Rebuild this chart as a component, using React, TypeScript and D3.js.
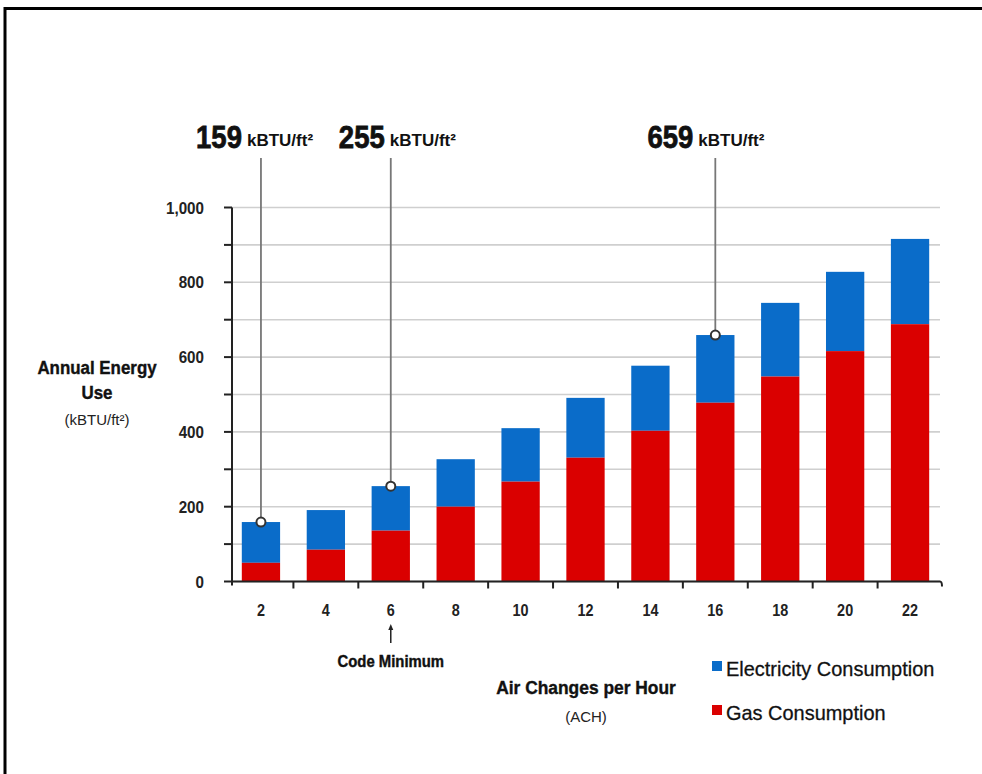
import React from "react";
import * as d3 from "d3";

const categories = ["2", "4", "6", "8", "10", "12", "14", "16", "18", "20", "22"];
const gasValues = [50, 85, 136, 200, 267, 331, 403, 478, 548, 616, 688];
const totalValues = [159, 191, 255, 327, 410, 491, 577, 659, 745, 828, 916];
const yTicks = [0, 200, 400, 600, 800, 1000];
const yMinorTicks = [0, 100, 200, 300, 400, 500, 600, 700, 800, 900, 1000];
const annotationCats = ["2", "6", "16"];
const annotationValues = [159, 255, 659];
const seriesNames = ["Electricity Consumption", "Gas Consumption"];
const seriesColors = ["#0a6cc9", "#da0000"];

// layout only: horizontal offset of each annotation number's right edge from its leader line
const annotationDx = [-19, -6, -22];

const W = 982;
const H = 774;
const FONT = "'Liberation Sans', Arial, Helvetica, sans-serif";

type TProps = {
  x: number;
  y: number;
  sx?: number;
  size: number;
  bold?: boolean;
  heavy?: number;
  anchor?: "start" | "middle" | "end";
  fill?: string;
  children: React.ReactNode;
};

function T({ x, y, sx = 1, size, bold = true, heavy = 0, anchor = "start", fill = "#111", children }: TProps) {
  return (
    <text
      transform={`translate(${x},${y}) scale(${sx},1)`}
      textAnchor={anchor}
      fontFamily={FONT}
      fontWeight={bold ? "bold" : "normal"}
      fontSize={size}
      fill={fill}
      stroke={heavy > 0 ? fill : "none"}
      strokeWidth={heavy}
    >
      {children}
    </text>
  );
}

export default function App() {
  const x = d3.scaleBand<string>().domain(categories).range([228.5, 942.5]).padding(0);
  const y = d3.scaleLinear().domain([0, 1000]).range([581.5, 207.5]);
  const bw = x.bandwidth() * 0.59;
  const cx = (c: string) => (x(c) as number) + x.bandwidth() / 2;
  const axisLeft = 232;
  const axisRight = 940;
  const fmt = d3.format(",");

  return (
    <svg width={W} height={H} style={{ position: "absolute", left: 0, top: 0, display: "block", background: "#fff" }}>
      <rect x={0} y={0} width={W} height={H} fill="#fff" />
      {/* frame */}
      <path d={`M5,${H} V8.5 H${W}`} fill="none" stroke="#000" strokeWidth={3} />

      {/* gridlines */}
      {yMinorTicks.map((t) => (
        <line key={"g" + t} x1={axisLeft} x2={axisRight} y1={y(t)} y2={y(t)} stroke="#cfcfcf" strokeWidth={1.6} />
      ))}

      {/* bars */}
      {categories.map((c, i) => {
        const x0 = cx(c) - bw / 2;
        return (
          <g key={"b" + c}>
            <rect x={x0} y={y(totalValues[i])} width={bw} height={y(gasValues[i]) - y(totalValues[i])} fill={seriesColors[0]} />
            <rect x={x0} y={y(gasValues[i])} width={bw} height={y(0) - y(gasValues[i])} fill={seriesColors[1]} />
          </g>
        );
      })}

      {/* y axis */}
      <line x1={axisLeft} x2={axisLeft} y1={y(1000)} y2={y(0) + 4} stroke="#222" strokeWidth={2} />
      {yMinorTicks.map((t) => (
        <line key={"yt" + t} x1={axisLeft - 8} x2={axisLeft} y1={y(t)} y2={y(t)} stroke="#222" strokeWidth={2} />
      ))}
      {yTicks.map((t) => (
        <T key={"yl" + t} x={204} y={y(t) + 6} size={16} sx={0.95} anchor="end" fill="#222">
          {fmt(t)}
        </T>
      ))}

      {/* x axis */}
      <path d={`M${axisLeft},${y(0)} H${axisRight} q2,0 2,5`} fill="none" stroke="#222" strokeWidth={2} />
      {categories.slice(1).map((c) => (
        <line key={"xt" + c} x1={x(c) as number} x2={x(c) as number} y1={y(0)} y2={y(0) + 7} stroke="#222" strokeWidth={2} />
      ))}
      {categories.map((c) => (
        <T key={"xl" + c} x={cx(c)} y={616} size={16} sx={0.9} anchor="middle" fill="#222">
          {c}
        </T>
      ))}

      {/* code minimum marker */}
      <line x1={cx("6")} x2={cx("6")} y1={627} y2={643} stroke="#222" strokeWidth={1.5} />
      <path d={`M${cx("6") - 2.5},${630} L${cx("6")},${624} L${cx("6") + 2.5},${630} Z`} fill="#222" />
      <T x={cx("6")} y={667} size={16} sx={0.93} anchor="middle" heavy={0.4}>
        Code Minimum
      </T>

      {/* annotations */}
      {annotationCats.map((c, i) => {
        const lx = cx(c);
        const ty = y(annotationValues[i]);
        const numEnd = lx + annotationDx[i];
        return (
          <g key={"a" + c}>
            <line x1={lx} x2={lx} y1={158} y2={ty} stroke="#777" strokeWidth={1.8} />
            <circle cx={lx} cy={ty} r={4.5} fill="#fff" stroke="#333" strokeWidth={2} />
            <T x={numEnd} y={148} size={32} sx={0.86} anchor="end" heavy={0.8}>
              {annotationValues[i]}
            </T>
            <T x={numEnd + 5} y={146} size={17} sx={1}>
              kBTU/ft²
            </T>
          </g>
        );
      })}

      {/* y title */}
      <T x={97} y={374} size={19} sx={0.89} anchor="middle" heavy={0.4}>Annual Energy</T>
      <T x={97} y={399} size={19} sx={0.89} anchor="middle" heavy={0.4}>Use</T>
      <T x={97} y={425} size={15} bold={false} anchor="middle" fill="#222">(kBTU/ft²)</T>

      {/* x title */}
      <T x={586} y={694} size={19} sx={0.915} anchor="middle" heavy={0.4}>Air Changes per Hour</T>
      <T x={586} y={722} size={15} bold={false} anchor="middle" fill="#222">(ACH)</T>

      {/* legend */}
      {seriesNames.map((n, i) => (
        <g key={"l" + n} transform={`translate(712,${661 + i * 44})`}>
          <rect x={0} y={0} width={10} height={10} fill={seriesColors[i]} />
          <T x={14} y={15} size={21} sx={0.95} bold={false} heavy={0.3}>{n}</T>
        </g>
      ))}
    </svg>
  );
}
